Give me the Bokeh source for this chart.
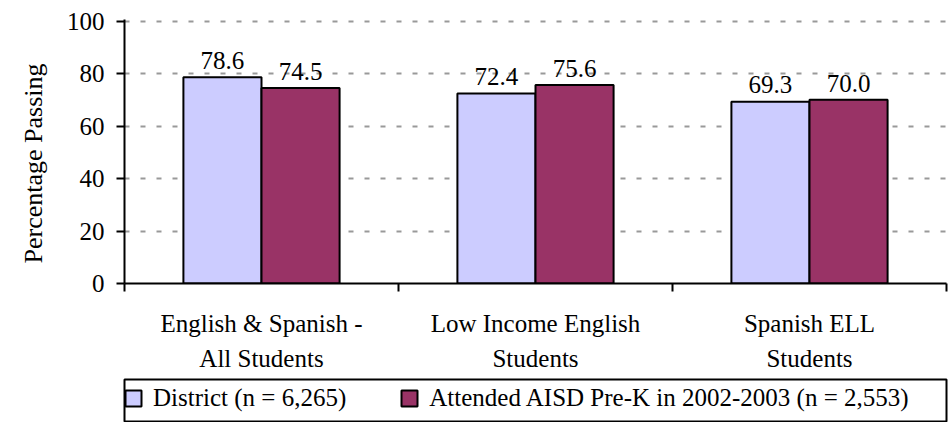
import numpy as np
from bokeh.plotting import figure
from bokeh.layouts import column
from bokeh.models import (ColumnDataSource, Range1d, FixedTicker, Legend, LegendItem, Title)
from bokeh.core.properties import value
from bokeh.embed import file_html
from bokeh.resources import INLINE

# ---- data ----
categories = ["English & Spanish -\nAll Students", "Low Income English\nStudents", "Spanish ELL\nStudents"]
district = [78.6, 72.4, 69.3]
prek = [74.5, 75.6, 70.0]
series_names = ["District (n = 6,265)", "Attended AISD Pre-K in 2002-2003 (n = 2,553)"]
y_ticks = [0, 20, 40, 60, 80, 100]

FONT = "Liberation Serif"
FS = "25px"
C1 = "#CCCCFF"
C2 = "#993366"
LABEL_PAD = 6.4  # data units between bar top and the middle of its value label

centers = np.arange(len(categories)) + 0.5
bw = 0.285

p = figure(width=948, height=378, output_backend="svg", toolbar_location=None,
           x_range=Range1d(0, len(categories)), y_range=Range1d(0, 100.6),
           min_border_left=124, min_border_right=2, min_border_top=19, min_border_bottom=95)
p.outline_line_color = None
p.background_fill_color = "white"
p.border_fill_color = "white"

src1 = ColumnDataSource(dict(x=centers - bw / 2, top=district,
                             ly=np.array(district) + LABEL_PAD, lab=[f"{v:.1f}" for v in district]))
src2 = ColumnDataSource(dict(x=centers + bw / 2, top=prek,
                             ly=np.array(prek) + LABEL_PAD, lab=[f"{v:.1f}" for v in prek]))

r1 = p.vbar(x="x", top="top", width=bw, source=src1, fill_color=C1, line_color="black", line_width=2)
r2 = p.vbar(x="x", top="top", width=bw, source=src2, fill_color=C2, line_color="black", line_width=2)

for s in (src1, src2):
    p.text(x="x", y="ly", text="lab", source=s, text_align=value("center"), text_baseline=value("middle"),
           text_font=value(FONT), text_font_size=value(FS), text_color="black")

# y axis
p.yaxis.ticker = FixedTicker(ticks=y_ticks)
p.yaxis.axis_line_width = 2
p.yaxis.axis_line_color = "black"
p.yaxis.major_tick_line_width = 2
p.yaxis.major_tick_out = 8
p.yaxis.major_tick_in = 0
p.yaxis.minor_tick_line_color = None
p.yaxis.major_label_text_font = FONT
p.yaxis.major_label_text_font_size = FS
p.yaxis.major_label_text_color = "black"
p.yaxis.major_label_standoff = 12

ytitle = Title(text="Percentage Passing", align="left", vertical_align="top", offset=20, standoff=28,
               text_font=FONT, text_font_size="26px", text_font_style="normal", text_color="black")
p.add_layout(ytitle, "left")

# x axis
p.xaxis.ticker = FixedTicker(ticks=list(centers), minor_ticks=list(range(len(categories) + 1)))
p.xaxis.major_label_overrides = {float(c): lab for c, lab in zip(centers, categories)}
p.xaxis.axis_line_width = 2
p.xaxis.axis_line_color = "black"
p.xaxis.major_tick_line_color = None
p.xaxis.major_tick_out = 0
p.xaxis.major_tick_in = 0
p.xaxis.minor_tick_line_color = "black"
p.xaxis.minor_tick_line_width = 2
p.xaxis.minor_tick_out = 8
p.xaxis.minor_tick_in = 0
p.xaxis.major_label_text_font = FONT
p.xaxis.major_label_text_font_size = FS
p.xaxis.major_label_text_color = "black"
p.xaxis.major_label_text_line_height = 1.3
p.xaxis.major_label_standoff = 18

# grid
p.xgrid.grid_line_color = None
p.ygrid.ticker = FixedTicker(ticks=y_ticks[1:])
p.ygrid.grid_line_color = "#999999"
p.ygrid.grid_line_width = 2
p.ygrid.grid_line_dash = "5 11"

# legend panel
p2 = figure(width=948, height=44, output_backend="svg", toolbar_location=None,
            x_range=Range1d(0, 1), y_range=Range1d(0, 1),
            x_axis_location=None, y_axis_location=None,
            min_border_left=101, min_border_right=0, min_border_top=1, min_border_bottom=0)
p2.grid.visible = False
p2.outline_line_color = "black"
p2.outline_line_width = 2
p2.background_fill_color = "white"
p2.border_fill_color = "white"
lr1 = p2.scatter(x="x", y="top", source=src1, marker="square", size=16, fill_color=C1,
                 line_color="black", line_width=2, visible=False)
lr2 = p2.scatter(x="x", y="top", source=src2, marker="square", size=16, fill_color=C2,
                 line_color="black", line_width=2, visible=False)

legend = Legend(items=[LegendItem(label=series_names[0], renderers=[lr1]),
                       LegendItem(label=series_names[1], renderers=[lr2])],
                orientation="horizontal", location=(-11, 4),
                border_line_color=None, background_fill_alpha=0.0,
                label_text_font=FONT, label_text_font_size=FS, label_text_color="black",
                glyph_width=40, glyph_height=40, label_standoff=0, spacing=43,
                padding=0, margin=0)
p2.add_layout(legend)

layout = column(p, p2, spacing=0)
open("out.html", "w").write(file_html(layout, INLINE))
